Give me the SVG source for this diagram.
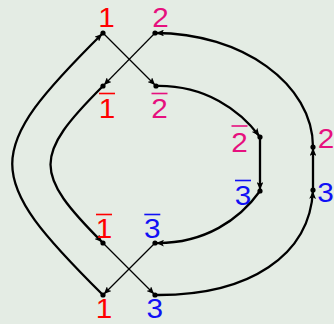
<svg xmlns="http://www.w3.org/2000/svg" width="334" height="324" viewBox="0 0 334 324">
<defs>
<marker id="ah" viewBox="0 0 10 8" refX="10.5" refY="4" markerWidth="8.5" markerHeight="6.8" markerUnits="userSpaceOnUse" orient="auto">
<path d="M0,0 L9,4 L0,8 L2,4 z" fill="#000"/>
</marker>
<style>
.bg{fill:#e4ece4}
.thick{fill:none;stroke:#000;stroke-width:2.3;marker-end:url(#ah)}
.thin{fill:none;stroke:#000;stroke-width:1.2;marker-end:url(#ah)}
.dot{fill:#000}
.lab{font-family:"Liberation Sans",Arial,sans-serif;font-size:27px;text-anchor:middle}
.r{fill:#ff0000}.m{fill:#e6107e}.b{fill:#1010f5}
.ol{stroke-width:1.6}
.olr{stroke:#ff0000}.olm{stroke:#e6107e}.olb{stroke:#1010f5}
</style>
</defs>
<rect class="bg" x="0" y="0" width="334" height="324"/>
<g id="connectors">
<path class="thin" d="M103,33 L156,86"/>
<path class="thin" d="M155,33 L103,86"/>
<path class="thin" d="M103,243 L155,295"/>
<path class="thin" d="M155,243 L103,295"/>
<path class="thick" d="M103,295 C-18,175 -18,153 103,33"/>
<path class="thick" d="M103,86 C33,156 33,173 103,243"/>
<path class="thick" d="M156,86 C205,85 240,110 260,137"/>
<path class="thick" d="M260,137 L260,191"/>
<path class="thick" d="M260,191 C240,219 205,244 155,243"/>
<path class="thick" d="M155,295 C250,296 310,255 313,190"/>
<path class="thick" d="M313,190 L313,147"/>
<path class="thick" d="M313,147 C313,84 242,33 155,33"/>
</g>
<g id="n1top"><circle class="dot" cx="103" cy="33" r="2.6"/><text class="lab r" transform="translate(106.6,27) scale(1.1,1)">1</text></g>
<g id="n2top"><circle class="dot" cx="155" cy="33" r="2.6"/><text class="lab m" transform="translate(160.5,27) scale(1.1,1)">2</text></g>
<g id="n1barU"><circle class="dot" cx="103" cy="86" r="2.6"/><line class="ol olr" x1="99" y1="93.5" x2="115" y2="93.5"/><text class="lab r" transform="translate(107,118) scale(1.1,1)">1</text></g>
<g id="n2barU"><circle class="dot" cx="156" cy="86" r="2.6"/><line class="ol olm" x1="151.5" y1="93.5" x2="167.5" y2="93.5"/><text class="lab m" transform="translate(159.5,118) scale(1.1,1)">2</text></g>
<g id="n2barR"><circle class="dot" cx="260" cy="137" r="2.6"/><line class="ol olm" x1="231.5" y1="126" x2="247.5" y2="126"/><text class="lab m" transform="translate(239.5,152) scale(1.1,1)">2</text></g>
<g id="n3barR"><circle class="dot" cx="260" cy="191" r="2.6"/><line class="ol olb" x1="235" y1="180.5" x2="251" y2="180.5"/><text class="lab b" transform="translate(243,205) scale(1.1,1)">3</text></g>
<g id="n2R"><circle class="dot" cx="313" cy="147" r="2.6"/><text class="lab m" transform="translate(326,148) scale(1.1,1)">2</text></g>
<g id="n3R"><circle class="dot" cx="313" cy="190" r="2.6"/><text class="lab b" transform="translate(325.5,202) scale(1.1,1)">3</text></g>
<g id="n1barL"><circle class="dot" cx="103" cy="243" r="2.6"/><line class="ol olr" x1="96" y1="214.5" x2="112" y2="214.5"/><text class="lab r" transform="translate(104,238) scale(1.1,1)">1</text></g>
<g id="n3barL"><circle class="dot" cx="155" cy="243" r="2.6"/><line class="ol olb" x1="144.3" y1="214.5" x2="160.3" y2="214.5"/><text class="lab b" transform="translate(152.3,238) scale(1.1,1)">3</text></g>
<g id="n1bot"><circle class="dot" cx="103" cy="295" r="2.6"/><text class="lab r" transform="translate(104,318) scale(1.1,1)">1</text></g>
<g id="n3bot"><circle class="dot" cx="155" cy="295" r="2.6"/><text class="lab b" transform="translate(154.7,318) scale(1.1,1)">3</text></g>
</svg>
